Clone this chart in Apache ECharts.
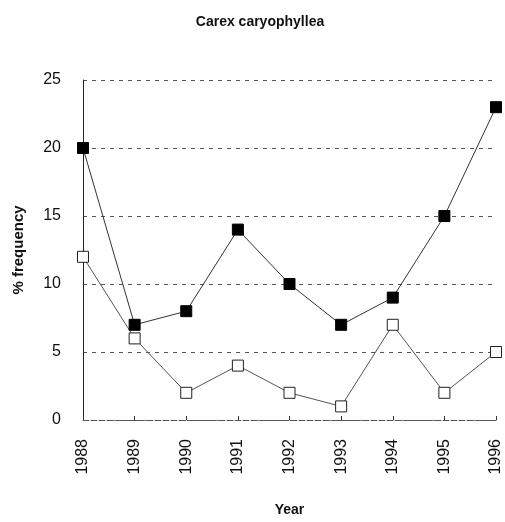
<!DOCTYPE html>
<html>
<head>
<meta charset="utf-8">
<script src="https://cdn.jsdelivr.net/npm/echarts@6/dist/echarts.min.js"></script>
<style>
  html, body { margin: 0; padding: 0; background: #fff; }
  #chart { width: 505px; height: 522px; }
</style>
</head>
<body>
<div id="chart"></div>
<script>
// data
const years = ["1988", "1989", "1990", "1991", "1992", "1993", "1994", "1995", "1996"];
const filledValues = [20, 7, 8, 14, 10, 7, 9, 15, 23];
const openValues = [12, 6, 2, 4, 2, 1, 7, 2, 5];
const yTicks = [0, 5, 10, 15, 20, 25];

const chart = echarts.init(document.getElementById("chart"));
const font = "Liberation Sans, Arial, sans-serif";

chart.setOption({
  animation: false,
  backgroundColor: "#fff",
  title: {
    text: "Carex caryophyllea",
    left: 255,
    top: 10,
    textAlign: "center",
    textStyle: { fontFamily: font, fontSize: 14, fontWeight: "bold", color: "#111" }
  },
  grid: { left: 83, right: 9, top: 80, bottom: 100 },
  xAxis: {
    type: "category",
    data: years,
    boundaryGap: false,
    name: "Year",
    nameLocation: "middle",
    nameGap: 83,
    nameTextStyle: { fontFamily: font, fontSize: 14, fontWeight: "bold", color: "#111" },
    axisLine: { lineStyle: { color: "#555", width: 1, type: [6, 2] } },
    axisTick: { show: true, alignWithLabel: true, length: 4, inside: true, lineStyle: { color: "#333" } },
    axisLabel: { rotate: 90, margin: 19, fontFamily: font, fontSize: 16, color: "#111" },
    splitLine: { show: false }
  },
  yAxis: {
    type: "value",
    min: yTicks[0],
    max: yTicks[yTicks.length - 1],
    interval: 5,
    name: "% frequency",
    nameLocation: "middle",
    nameGap: 57,
    nameTextStyle: { fontFamily: font, fontSize: 15, fontWeight: "bold", color: "#111" },
    axisLine: { show: true, lineStyle: { color: "#222", width: 1 } },
    axisTick: { show: false },
    axisLabel: { margin: 22, fontFamily: font, fontSize: 16, color: "#111" },
    splitLine: { show: true, lineStyle: { color: "#555", width: 1, type: [4, 5] } }
  },
  series: [
    {
      name: "filled",
      type: "line",
      data: filledValues,
      symbol: "rect",
      symbolSize: 11,
      itemStyle: { color: "#000", borderColor: "#000", borderWidth: 1 },
      lineStyle: { color: "#333", width: 1 },
      z: 3
    },
    {
      name: "open",
      type: "line",
      data: openValues,
      symbol: "rect",
      symbolSize: 11,
      itemStyle: { color: "#fff", borderColor: "#222", borderWidth: 1 },
      lineStyle: { color: "#555", width: 1 },
      z: 2
    }
  ]
});
</script>
</body>
</html>
